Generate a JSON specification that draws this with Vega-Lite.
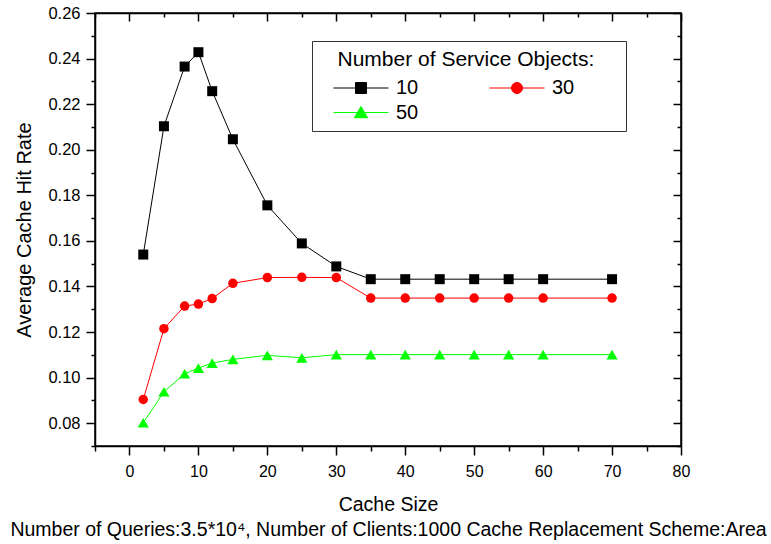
{
  "$schema": "https://vega.github.io/schema/vega-lite/v6.json",
  "width": 586,
  "height": 433,
  "autosize": "none",
  "padding": {"left": 95, "top": 13, "right": 90, "bottom": 98},
  "background": "white",
  "config": {
    "font": "Liberation Sans",
    "view": {"stroke": "black", "strokeWidth": 1.5},
    "axis": {"grid": false, "domainColor": "black", "domainWidth": 1.5, "tickColor": "black", "tickWidth": 1.5, "labelColor": "black", "titleColor": "black", "titleFontWeight": "normal", "labelFlush": false, "labelOverlap": false}
  },
  "data": {
    "values": [
      {"series": "10", "size": 2, "rate": 0.154},
      {"series": "10", "size": 5, "rate": 0.2103},
      {"series": "10", "size": 8, "rate": 0.2365},
      {"series": "10", "size": 10, "rate": 0.2428},
      {"series": "10", "size": 12, "rate": 0.2257},
      {"series": "10", "size": 15, "rate": 0.2046},
      {"series": "10", "size": 20, "rate": 0.1756},
      {"series": "10", "size": 25, "rate": 0.1589},
      {"series": "10", "size": 30, "rate": 0.1488},
      {"series": "10", "size": 35, "rate": 0.1432},
      {"series": "10", "size": 40, "rate": 0.1432},
      {"series": "10", "size": 45, "rate": 0.1432},
      {"series": "10", "size": 50, "rate": 0.1432},
      {"series": "10", "size": 55, "rate": 0.1432},
      {"series": "10", "size": 60, "rate": 0.1432},
      {"series": "10", "size": 70, "rate": 0.1432},
      {"series": "30", "size": 2, "rate": 0.0904},
      {"series": "30", "size": 5, "rate": 0.1215},
      {"series": "30", "size": 8, "rate": 0.1314},
      {"series": "30", "size": 10, "rate": 0.1323},
      {"series": "30", "size": 12, "rate": 0.1347},
      {"series": "30", "size": 15, "rate": 0.1414},
      {"series": "30", "size": 20, "rate": 0.1439},
      {"series": "30", "size": 25, "rate": 0.144},
      {"series": "30", "size": 30, "rate": 0.1439},
      {"series": "30", "size": 35, "rate": 0.1349},
      {"series": "30", "size": 40, "rate": 0.1349},
      {"series": "30", "size": 45, "rate": 0.1349},
      {"series": "30", "size": 50, "rate": 0.1349},
      {"series": "30", "size": 55, "rate": 0.1349},
      {"series": "30", "size": 60, "rate": 0.1349},
      {"series": "30", "size": 70, "rate": 0.1349},
      {"series": "50", "size": 2, "rate": 0.0802},
      {"series": "50", "size": 5, "rate": 0.0938},
      {"series": "50", "size": 8, "rate": 0.1017},
      {"series": "50", "size": 10, "rate": 0.1042},
      {"series": "50", "size": 12, "rate": 0.1064},
      {"series": "50", "size": 15, "rate": 0.108},
      {"series": "50", "size": 20, "rate": 0.1098},
      {"series": "50", "size": 25, "rate": 0.1087},
      {"series": "50", "size": 30, "rate": 0.1101},
      {"series": "50", "size": 35, "rate": 0.1101},
      {"series": "50", "size": 40, "rate": 0.1101},
      {"series": "50", "size": 45, "rate": 0.1101},
      {"series": "50", "size": 50, "rate": 0.1101},
      {"series": "50", "size": 55, "rate": 0.1101},
      {"series": "50", "size": 60, "rate": 0.1101},
      {"series": "50", "size": 70, "rate": 0.1101}
    ]
  },
  "layer": [
    {
      "mark": {"type": "line", "strokeWidth": 1},
      "encoding": {
        "x": {
          "field": "size", "type": "quantitative",
          "scale": {"domain": [-5, 80], "nice": false, "zero": false},
          "axis": {
            "orient": "bottom",
            "values": [-5, 0, 5, 10, 15, 20, 25, 30, 35, 40, 45, 50, 55, 60, 65, 70, 75, 80],
            "tickSize": {"condition": {"test": "datum.value % 10 === 0", "value": 9}, "value": 5},
            "labelExpr": "datum.value % 10 === 0 ? datum.label : ''",
            "labelFontSize": 16,
            "labelPadding": 8,
            "title": ["Cache Size", "Number of Queries:3.5*10⁴, Number of Clients:1000 Cache Replacement Scheme:Area"],
            "titleFontSize": 19.5,
            "titleLineHeight": 25,
            "titlePadding": 16
          }
        },
        "y": {
          "field": "rate", "type": "quantitative",
          "scale": {"domain": [0.07, 0.26], "nice": false, "zero": false},
          "axis": {
            "orient": "left",
            "values": [0.07, 0.08, 0.09, 0.1, 0.11, 0.12, 0.13, 0.14, 0.15, 0.16, 0.17, 0.18, 0.19, 0.2, 0.21, 0.22, 0.23, 0.24, 0.25, 0.26],
            "format": ".2f",
            "tickSize": {"condition": {"test": "round(datum.value * 100) % 2 === 0", "value": 9}, "value": 4},
            "labelExpr": "round(datum.value * 100) % 2 === 0 ? datum.label : ''",
            "labelFontSize": 16.5,
            "labelPadding": 6,
            "title": "Average Cache Hit Rate",
            "titleFontSize": 20,
            "titlePadding": 13
          }
        },
        "color": {
          "field": "series", "type": "nominal",
          "scale": {"domain": ["10", "30", "50"], "range": ["#000000", "#ff0000", "#00ff00"]},
          "legend": {
            "title": "\u200b\u00a0\u00a0\u00a0Number of Service Objects:\u00a0\u00a0\u00a0\u00a0\u200b",
            "orient": "none",
            "direction": "horizontal",
            "legendX": 217,
            "legendY": 28,
            "columns": 2,
            "columnPadding": 57,
            "rowPadding": 4.5,
            "padding": 8,
            "strokeColor": "#333333",
            "titleFontSize": 21,
            "titleFontWeight": "normal",
            "titleColor": "black",
            "titleLimit": 500,
            "titlePadding": 8,
            "labelFontSize": 20,
            "labelColor": "black",
            "symbolSize": 121,
            "symbolOffset": 31,
            "labelOffset": 25,
            "encode": {
              "symbols": {
                "update": {
                  "shape": {"signal": "datum.value === '10' ? 'M-5,0H5M-1,-1H1V1H-1Z' : datum.value === '30' ? 'M-5,0H5M1,0A1,1,0,1,1,-1,0A1,1,0,1,1,1,0Z' : 'M-5,0H5M0,-1.1L1.2,0.95H-1.2Z'"},
                  "stroke": {"signal": "scale('color', datum.value)"},
                  "fill": {"signal": "scale('color', datum.value)"},
                  "strokeWidth": {"value": 1},
                  "size": {"value": 121},
                  "opacity": {"value": 1}
                }
              }
            }
          }
        }
      }
    },
    {
      "transform": [{"filter": "datum.series === '10'"}],
      "mark": {"type": "point", "filled": true, "opacity": 1, "shape": "square", "size": 100},
      "encoding": {
        "x": {"field": "size", "type": "quantitative", "axis": null},
        "y": {"field": "rate", "type": "quantitative", "axis": null},
        "color": {"field": "series", "type": "nominal"}
      }
    },
    {
      "transform": [{"filter": "datum.series === '30'"}],
      "mark": {"type": "point", "filled": true, "opacity": 1, "shape": "circle", "size": 90},
      "encoding": {
        "x": {"field": "size", "type": "quantitative", "axis": null},
        "y": {"field": "rate", "type": "quantitative", "axis": null},
        "color": {"field": "series", "type": "nominal"}
      }
    },
    {
      "transform": [{"filter": "datum.series === '50'"}],
      "mark": {"type": "point", "filled": true, "opacity": 1, "shape": "triangle-up", "size": 125},
      "encoding": {
        "x": {"field": "size", "type": "quantitative", "axis": null},
        "y": {"field": "rate", "type": "quantitative", "axis": null},
        "color": {"field": "series", "type": "nominal"}
      }
    },
    {
      "mark": {"type": "point", "opacity": 0},
      "encoding": {
        "x": {
          "field": "size", "type": "quantitative",
          "axis": {
            "orient": "top",
            "values": [-5, 0, 5, 10, 15, 20, 25, 30, 35, 40, 45, 50, 55, 60, 65, 70, 75, 80],
            "tickSize": {"condition": {"test": "datum.value % 10 === 0", "value": -8}, "value": -4},
            "labels": false,
            "title": null
          }
        },
        "y": {
          "field": "rate", "type": "quantitative",
          "axis": {
            "orient": "right",
            "values": [0.07, 0.08, 0.09, 0.1, 0.11, 0.12, 0.13, 0.14, 0.15, 0.16, 0.17, 0.18, 0.19, 0.2, 0.21, 0.22, 0.23, 0.24, 0.25, 0.26],
            "tickSize": {"condition": {"test": "round(datum.value * 100) % 2 === 0", "value": -8}, "value": -4},
            "labels": false,
            "title": null
          }
        }
      }
    }
  ],
  "resolve": {"axis": {"x": "independent", "y": "independent"}}
}
